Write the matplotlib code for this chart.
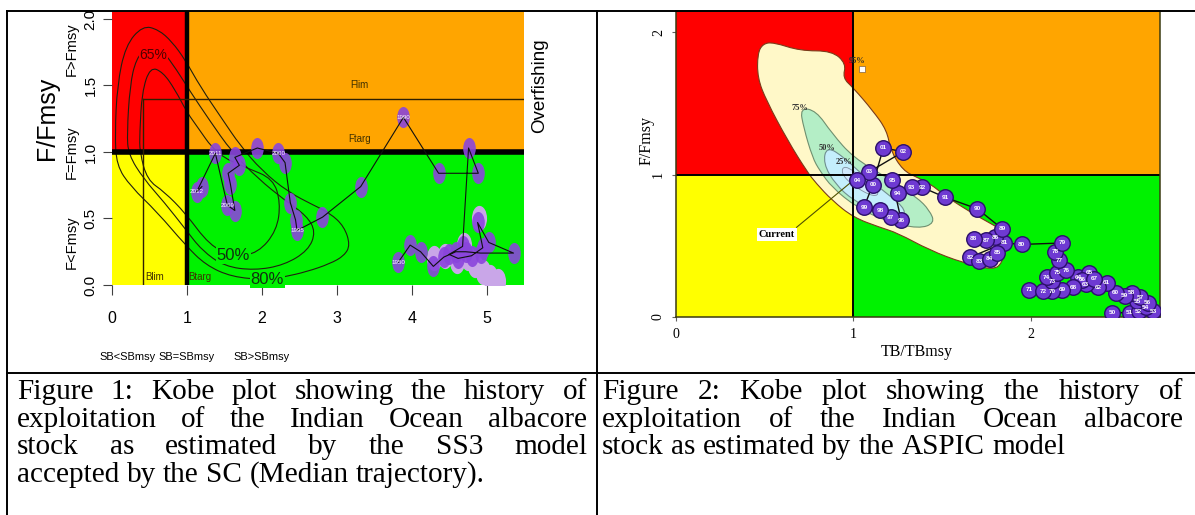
import matplotlib
matplotlib.use("Agg")
import matplotlib.pyplot as plt
from matplotlib.patches import Rectangle, PathPatch
from matplotlib.lines import Line2D
from matplotlib.path import Path
from matplotlib.transforms import Affine2D, blended_transform_factory

plt.rcParams["font.family"] = ["Liberation Sans", "DejaVu Sans"]

W, H = 1195, 515

RED, ORANGE, YELLOW, GREEN = "#ff0000", "#ffa500", "#ffff00", "#00f200"

# ---------------- SS3 panel ----------------
ss3_xlim = (0, 5.5)
ss3_ylim = (0, 2.06)
ss3_xticks = [0, 1, 2, 3, 4, 5]
ss3_yticks = [0.0, 0.5, 1.0, 1.5, 2.0]
f_lim, b_lim = 1.4, 0.42

# median trajectory (SB/SBmsy, F/Fmsy)
ss3_b = [3.82, 3.98, 4.12, 4.29, 4.43, 4.59, 4.72, 4.92, 5.36, 5.03, 4.88, 4.95, 4.80, 4.62, 4.50, 4.68,
         4.76, 4.89, 4.36, 3.89, 3.32, 2.81, 2.47, 2.45, 2.38, 2.31, 2.22, 1.94, 1.64, 1.70, 1.55, 1.58,
         1.64, 1.54, 1.38, 1.13, 1.20]
ss3_f = [0.17, 0.30, 0.25, 0.14, 0.21, 0.25, 0.25, 0.24, 0.24, 0.32, 0.47, 0.28, 0.22, 0.20, 0.23, 0.29,
         1.03, 0.84, 0.84, 1.26, 0.74, 0.51, 0.41, 0.49, 0.62, 0.92, 0.99, 1.03, 0.96, 0.90, 0.84, 0.76,
         0.56, 0.60, 0.99, 0.70, 0.74]
ss3_tag_idx = [0, 19, 22, 26, 33, 34, 35]
ss3_tag_txt = ["1950", "1990", "1995", "2000", "2009", "2011", "2012"]

# pale uncertainty cloud around the early years
halo_b = [4.30, 4.45, 4.60, 4.75, 4.85, 4.95, 5.05, 5.15, 4.90, 4.70]
halo_f = [0.20, 0.22, 0.18, 0.20, 0.15, 0.10, 0.06, 0.03, 0.50, 0.30]

# probability contours of the current status
c80 = [(0.41, 1.95), (0.62, 1.92), (0.80, 1.83), (0.98, 1.69), (1.18, 1.49), (1.48, 1.24), (1.71, 1.05),
       (2.00, 0.86), (2.35, 0.70), (2.69, 0.60), (2.91, 0.54), (3.10, 0.44), (3.18, 0.30), (3.10, 0.22),
       (2.91, 0.16), (2.60, 0.10), (2.29, 0.06), (2.05, 0.04), (1.60, 0.06), (1.25, 0.15), (0.98, 0.30),
       (0.60, 0.55), (0.25, 0.74), (0.06, 0.90), (0.04, 1.14), (0.07, 1.50), (0.18, 1.80)]
c65 = [(0.48, 1.80), (0.68, 1.76), (0.86, 1.62), (1.05, 1.45), (1.30, 1.24), (1.60, 1.00), (1.95, 0.80),
       (2.30, 0.64), (2.60, 0.52), (2.72, 0.40), (2.62, 0.26), (2.30, 0.15), (1.90, 0.11), (1.50, 0.14),
       (1.20, 0.26), (0.98, 0.42), (0.70, 0.62), (0.42, 0.80), (0.22, 0.98), (0.20, 1.14), (0.24, 1.50),
       (0.32, 1.70)]
c50 = [(0.51, 1.64), (0.68, 1.60), (0.84, 1.47), (1.00, 1.30), (1.10, 1.22), (1.40, 0.98), (1.80, 0.88),
       (2.15, 0.80), (2.25, 0.62), (2.20, 0.41), (1.95, 0.24), (1.62, 0.21), (1.30, 0.30), (0.98, 0.54),
       (0.70, 0.70), (0.47, 0.79), (0.37, 1.00), (0.37, 1.14), (0.40, 1.45)]

# ---------------- ASPIC panel ----------------
asp_xlim = (0, 2.73)
asp_ylim = (0, 2.15)
asp_ticks = [0, 1, 2]

asp_year = ["50", "51", "52", "53", "54", "55", "56", "57", "58", "59",
            "60", "61", "62", "63", "64", "65", "66", "67", "68", "69",
            "70", "71", "72", "73", "74", "75", "76", "77", "78", "79",
            "80", "81", "82", "83", "84", "85", "86", "87", "88", "89",
            "90", "91", "92", "93", "94", "95", "96", "97", "98", "99",
            "00", "01", "02", "03", "04"]
asp_b = [2.46, 2.56, 2.61, 2.69, 2.65, 2.60, 2.66, 2.62, 2.57, 2.53,
         2.48, 2.43, 2.38, 2.31, 2.27, 2.33, 2.29, 2.36, 2.24, 2.18,
         2.12, 1.99, 2.07, 2.12, 2.09, 2.15, 2.20, 2.16, 2.14, 2.18,
         1.95, 1.85, 1.66, 1.71, 1.77, 1.81, 1.80, 1.75, 1.68, 1.84,
         1.70, 1.52, 1.39, 1.33, 1.25, 1.22, 1.27, 1.21, 1.15, 1.06,
         1.11, 1.17, 1.28, 1.09, 1.02]
asp_f = [0.03, 0.03, 0.04, 0.04, 0.07, 0.11, 0.10, 0.14, 0.17, 0.15,
         0.17, 0.24, 0.21, 0.23, 0.28, 0.31, 0.26, 0.27, 0.21, 0.19,
         0.18, 0.19, 0.18, 0.25, 0.28, 0.31, 0.33, 0.40, 0.46, 0.52,
         0.51, 0.52, 0.42, 0.39, 0.41, 0.45, 0.56, 0.54, 0.55, 0.62,
         0.76, 0.84, 0.91, 0.91, 0.87, 0.96, 0.68, 0.70, 0.75, 0.77,
         0.93, 1.19, 1.16, 1.02, 0.96]

r95 = [(0.49, 1.92), (0.55, 1.93), (0.70, 1.87), (0.88, 1.87), (0.96, 1.78), (0.94, 1.68), (1.00, 1.61),
       (1.11, 1.45), (1.19, 1.31), (1.21, 1.17), (1.28, 1.03), (1.36, 0.98), (1.43, 0.94), (1.53, 0.84),
       (1.67, 0.73), (1.77, 0.66), (1.84, 0.61), (1.86, 0.49), (1.84, 0.38), (1.79, 0.33), (1.62, 0.38),
       (1.43, 0.47), (1.25, 0.59), (1.15, 0.63), (1.00, 0.70), (0.88, 0.82), (0.79, 0.94), (0.74, 1.02),
       (0.63, 1.24), (0.51, 1.52), (0.46, 1.68), (0.46, 1.85)]
r75 = [(0.70, 1.47), (0.79, 1.45), (0.88, 1.29), (1.00, 1.12), (1.19, 0.98), (1.36, 0.84), (1.43, 0.75),
       (1.46, 0.66), (1.37, 0.62), (1.19, 0.67), (1.02, 0.77), (0.88, 0.91), (0.81, 1.03), (0.77, 1.12),
       (0.72, 1.33)]
r50 = [(0.85, 1.20), (0.95, 1.12), (1.05, 1.00), (1.20, 0.86), (1.30, 0.75), (1.27, 0.68), (1.15, 0.72),
       (1.00, 0.82), (0.90, 0.93), (0.83, 1.08)]
r25 = [(0.95, 1.07), (1.05, 0.98), (1.15, 0.88), (1.12, 0.84), (1.00, 0.92), (0.93, 1.01)]

fig = plt.figure(figsize=(W / 100, H / 100), dpi=100)
fig.patch.set_facecolor("white")


def smooth_loop(pts):
    # closed quadratic-bezier loop through the midpoints of the outline
    n = len(pts)
    mids = [((pts[i][0] + pts[(i + 1) % n][0]) / 2, (pts[i][1] + pts[(i + 1) % n][1]) / 2)
            for i in range(n)]
    verts = [mids[-1]]
    codes = [Path.MOVETO]
    for i in range(n):
        verts += [pts[i], mids[i]]
        codes += [Path.CURVE3, Path.CURVE3]
    return Path(verts, codes)


def quadrants(ax, xmax, ymax):
    ax.add_patch(Rectangle((0, 1), 1, ymax - 1, color=RED, lw=0, zorder=0))
    ax.add_patch(Rectangle((1, 1), xmax - 1, ymax - 1, color=ORANGE, lw=0, zorder=0))
    ax.add_patch(Rectangle((0, 0), 1, 1, color=YELLOW, lw=0, zorder=0))
    ax.add_patch(Rectangle((1, 0), xmax - 1, 1, color=GREEN, lw=0, zorder=0))


# ---- left: SS3 ----
ax1 = fig.add_axes([112 / W, 1 - 285 / H, 412 / W, 274 / H])
ax1.set_xlim(*ss3_xlim)
ax1.set_ylim(*ss3_ylim)
quadrants(ax1, ss3_xlim[1], ss3_ylim[1])
for s in ax1.spines.values():
    s.set_visible(False)

for cont in (c80, c65, c50):
    ax1.add_patch(PathPatch(smooth_loop(cont), fill=False, ec="#202010", lw=0.8, zorder=2))

ax1.axhline(1.0, color="black", lw=4.0, zorder=3)
ax1.axvline(1.0, color="black", lw=3.2, zorder=3)
ax1.plot([b_lim, ss3_xlim[1]], [f_lim, f_lim], color="#302000", lw=1.0, zorder=3)
ax1.plot([b_lim, b_lim], [0, f_lim], color="#302000", lw=1.0, zorder=3)

ax1.text(0.55, 1.73, "65%", fontsize=10, color="#500000", ha="center", va="center", zorder=3,
         bbox=dict(boxstyle="square,pad=0.05", fc=RED, ec="none"))
ax1.text(1.62, 0.22, "50%", fontsize=12, color="#103010", ha="center", va="center", zorder=3,
         bbox=dict(boxstyle="square,pad=0.05", fc=GREEN, ec="none"))
ax1.text(2.07, 0.04, "80%", fontsize=12, color="#103010", ha="center", va="center", zorder=3,
         bbox=dict(boxstyle="square,pad=0.05", fc=GREEN, ec="none"))

small = dict(fontsize=7, color="#403000", ha="center", va="center", zorder=3)
ax1.text(3.3, 1.50, "Flim", **small)
ax1.text(3.3, 1.10, "Ftarg", **small)
ax1.text(0.57, 0.06, "Blim", **small)
ax1.text(1.17, 0.06, "Btarg", **small)

ell = Path.unit_circle().transformed(Affine2D().scale(0.6, 1.0))
ax1.scatter(halo_b, halo_f, marker=ell, s=330, c="#c9a6e8", linewidths=0, zorder=3.5)
ax1.scatter(ss3_b, ss3_f, marker=ell, s=230, c="#8a45dc", alpha=0.9, linewidths=0, zorder=4)
ax1.plot(ss3_b, ss3_f, color="#101010", lw=0.8, zorder=5)
for i, t in zip(ss3_tag_idx, ss3_tag_txt):
    ax1.text(ss3_b[i], ss3_f[i], t, fontsize=4.5, color="white", ha="center", va="center", zorder=6)

ax1.set_xticks(ss3_xticks)
ax1.set_xticklabels([str(v) for v in ss3_xticks])
ax1.set_yticks(ss3_yticks)
ax1.set_yticklabels([f"{v:.1f}" for v in ss3_yticks], rotation=90, va="center")
ax1.tick_params(axis="x", length=7, pad=12, labelsize=11.5, color="#404040")
ax1.tick_params(axis="y", length=6.5, pad=4, labelsize=11, color="#404040")

by = blended_transform_factory(ax1.transAxes, ax1.transData)
ax1.text(-0.158, 1.25, "F/Fmsy", transform=by, rotation=90, fontsize=18, ha="center", va="center")
for yy, t in [(1.77, "F>Fmsy"), (1.0, "F=Fmsy"), (0.32, "F<Fmsy")]:
    ax1.text(-0.097, yy, t, transform=by, rotation=90, fontsize=10.5, ha="center", va="center")
ax1.text(1.039, 1.50, "Overfishing", transform=by, rotation=90, fontsize=13.5, ha="center", va="center")

bx = blended_transform_factory(ax1.transData, ax1.transAxes)
for xx, t in [(0.21, "SB<SBmsy"), (0.99, "SB=SBmsy"), (2.0, "SB>SBmsy")]:
    ax1.text(xx, -0.263, t, transform=bx, fontsize=7.9, ha="center", va="center")

# ---- right: ASPIC ----
serif = ["Liberation Serif", "DejaVu Serif"]
ax2 = fig.add_axes([676 / W, 1 - 317 / H, 484 / W, 306 / H])
ax2.set_xlim(*asp_xlim)
ax2.set_ylim(*asp_ylim)
quadrants(ax2, asp_xlim[1], asp_ylim[1])

ax2.add_patch(PathPatch(smooth_loop(r95), fc="#fff8c8", ec="#7a3b1a", lw=0.8, zorder=1))
ax2.add_patch(PathPatch(smooth_loop(r75), fc="#b4eec6", ec="#6f8f6f", lw=0.8, zorder=1.1))
ax2.add_patch(PathPatch(smooth_loop(r50), fc="#c4eefc", ec="#6f8f8f", lw=0.8, zorder=1.2))
ax2.add_patch(PathPatch(smooth_loop(r25), fc="#d0e8fc", ec="#7f8f9f", lw=0.6, zorder=1.3))

ax2.axhline(1.0, color="black", lw=1.4, zorder=2)
ax2.axvline(1.0, color="black", lw=1.4, zorder=2)

lab = dict(fontsize=6, fontweight="bold", color="#303030", family=serif, ha="center", va="center", zorder=3)
ax2.text(1.02, 1.80, "95%", **lab)
ax2.plot([1.05], [1.74], marker="s", ms=5, mfc="white", mec="#806040", mew=0.5, zorder=3)
ax2.text(0.70, 1.47, "75%", **lab)
ax2.text(0.85, 1.19, "50%", **lab)
ax2.text(0.95, 1.09, "25%", **lab)

ax2.plot([0.68, 1.0], [0.63, 0.96], color="#505000", lw=0.8, zorder=3)
ax2.text(0.57, 0.58, "Current", fontsize=7.5, fontweight="bold", family=serif, ha="center",
         va="center", zorder=4, bbox=dict(boxstyle="square,pad=0.2", fc="white", ec="none"))

ax2.plot(asp_b, asp_f, color="#101010", lw=1.0, zorder=4)
ax2.scatter(asp_b, asp_f, s=125, c="#6e3ad2", edgecolors="#2b0f6b", linewidths=1.0, zorder=5)
for xx, yy, t in zip(asp_b, asp_f, asp_year):
    ax2.text(xx, yy, t, fontsize=4.6, fontweight="bold", color="white", ha="center", va="center", zorder=6)

for s in ax2.spines.values():
    s.set_color("#3a3a10")
    s.set_linewidth(1.1)
ax2.set_xticks(asp_ticks)
ax2.set_yticks(asp_ticks)
ax2.set_yticklabels([str(v) for v in asp_ticks], rotation=90, va="center")
ax2.tick_params(length=3, pad=5, labelsize=10, color="#606060")
for t in ax2.get_xticklabels() + ax2.get_yticklabels():
    t.set_family(serif)
ax2.text(-0.06, 1.24, "F/Fmsy", transform=blended_transform_factory(ax2.transAxes, ax2.transData),
         rotation=90, fontsize=11.5, family=serif, ha="center", va="center")
ax2.text(1.36, -0.114, "TB/TBmsy", transform=blended_transform_factory(ax2.transData, ax2.transAxes),
         fontsize=11.5, family=serif, ha="center", va="center")

# ---- table rules ----
def rule(xs, ys):
    fig.add_artist(Line2D([x / W for x in xs], [1 - y / H for y in ys], color="black", lw=1.4))


rule([7, 1195], [11, 11])
rule([7, 1195], [373, 373])
rule([7, 7], [11, 515])
rule([597, 597], [11, 515])

# ---- captions (justified) ----
cap1 = ["Figure 1: Kobe plot showing the history of",
        "exploitation of the Indian Ocean albacore",
        "stock as estimated by the SS3 model",
        "accepted by the SC (Median trajectory)."]
cap2 = ["Figure 2: Kobe plot showing the history of",
        "exploitation of the Indian Ocean albacore",
        "stock as estimated by the ASPIC model"]
baselines = [399, 427, 454, 482]

renderer = fig.canvas.get_renderer()
probe = fig.text(0, 0, cap2[2], fontsize=20, family=serif)
cap_fs = 20 * 462 / probe.get_window_extent(renderer).width
probe.remove()


def caption(lines, x0, x1):
    space = 0.25 * cap_fs * 100 / 72
    for i, line in enumerate(lines):
        words = line.split()
        yb = 1 - baselines[i] / H
        ts = [fig.text(0, yb, w, fontsize=cap_fs, family=serif, va="baseline") for w in words]
        widths = [t.get_window_extent(renderer).width for t in ts]
        if i == len(lines) - 1:
            gap = space
        else:
            gap = (x1 - x0 - sum(widths)) / (len(words) - 1)
        x = x0
        for t, w in zip(ts, widths):
            t.set_x(x / W)
            x += w + gap


caption(cap1, 17, 587)
caption(cap2, 602, 1183)

fig.savefig("out.png", dpi=100)
